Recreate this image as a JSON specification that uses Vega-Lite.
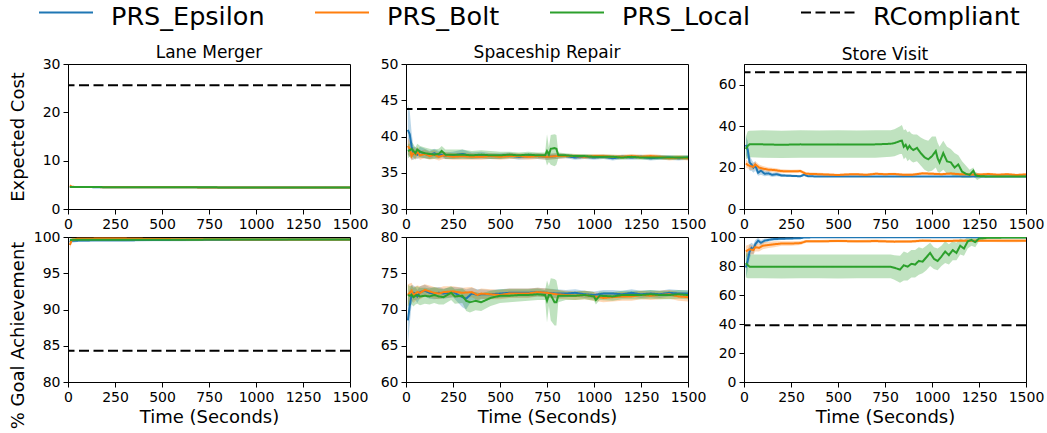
{
"$schema":"https://vega.github.io/schema/vega-lite/v6.json",
"background":"white",
"padding":{"left":8,"top":2,"right":0,"bottom":0},
"data":{"name":"d"},
"datasets":{"d":[
{"p":"LMc","s":"PRS_Epsilon","t":10,"v":4.6,"lo":4.35,"hi":4.85},{"p":"LMc","s":"PRS_Epsilon","t":20,"v":4.55,"lo":4.45,"hi":4.65},{"p":"LMc","s":"PRS_Epsilon","t":50,"v":4.55,"lo":4.47,"hi":4.63},{"p":"LMc","s":"PRS_Epsilon","t":150,"v":4.52,"lo":4.45,"hi":4.6},{"p":"LMc","s":"PRS_Epsilon","t":300,"v":4.5,"lo":4.43,"hi":4.57},{"p":"LMc","s":"PRS_Epsilon","t":450,"v":4.5,"lo":4.43,"hi":4.57},{"p":"LMc","s":"PRS_Epsilon","t":600,"v":4.48,"lo":4.41,"hi":4.55},{"p":"LMc","s":"PRS_Epsilon","t":750,"v":4.47,"lo":4.4,"hi":4.54},{"p":"LMc","s":"PRS_Epsilon","t":900,"v":4.46,"lo":4.39,"hi":4.53},{"p":"LMc","s":"PRS_Epsilon","t":1050,"v":4.45,"lo":4.38,"hi":4.52},{"p":"LMc","s":"PRS_Epsilon","t":1200,"v":4.44,"lo":4.37,"hi":4.51},{"p":"LMc","s":"PRS_Epsilon","t":1350,"v":4.44,"lo":4.37,"hi":4.51},{"p":"LMc","s":"PRS_Epsilon","t":1500,"v":4.43,"lo":4.36,"hi":4.5},
{"p":"LMc","s":"PRS_Bolt","t":10,"v":4.85,"lo":4.4,"hi":5.2},{"p":"LMc","s":"PRS_Bolt","t":20,"v":4.6,"lo":4.45,"hi":4.75},{"p":"LMc","s":"PRS_Bolt","t":50,"v":4.55,"lo":4.47,"hi":4.63},{"p":"LMc","s":"PRS_Bolt","t":150,"v":4.53,"lo":4.46,"hi":4.6},{"p":"LMc","s":"PRS_Bolt","t":300,"v":4.5,"lo":4.43,"hi":4.57},{"p":"LMc","s":"PRS_Bolt","t":450,"v":4.49,"lo":4.42,"hi":4.56},{"p":"LMc","s":"PRS_Bolt","t":600,"v":4.48,"lo":4.41,"hi":4.55},{"p":"LMc","s":"PRS_Bolt","t":750,"v":4.47,"lo":4.4,"hi":4.54},{"p":"LMc","s":"PRS_Bolt","t":900,"v":4.46,"lo":4.39,"hi":4.53},{"p":"LMc","s":"PRS_Bolt","t":1050,"v":4.45,"lo":4.38,"hi":4.52},{"p":"LMc","s":"PRS_Bolt","t":1200,"v":4.45,"lo":4.38,"hi":4.52},{"p":"LMc","s":"PRS_Bolt","t":1350,"v":4.44,"lo":4.37,"hi":4.51},{"p":"LMc","s":"PRS_Bolt","t":1500,"v":4.43,"lo":4.36,"hi":4.5},
{"p":"LMc","s":"PRS_Local","t":10,"v":4.55,"lo":4.4,"hi":4.7},{"p":"LMc","s":"PRS_Local","t":20,"v":4.55,"lo":4.46,"hi":4.64},{"p":"LMc","s":"PRS_Local","t":50,"v":4.54,"lo":4.47,"hi":4.61},{"p":"LMc","s":"PRS_Local","t":150,"v":4.53,"lo":4.46,"hi":4.6},{"p":"LMc","s":"PRS_Local","t":300,"v":4.51,"lo":4.44,"hi":4.58},{"p":"LMc","s":"PRS_Local","t":450,"v":4.5,"lo":4.43,"hi":4.57},{"p":"LMc","s":"PRS_Local","t":600,"v":4.49,"lo":4.42,"hi":4.56},{"p":"LMc","s":"PRS_Local","t":750,"v":4.48,"lo":4.41,"hi":4.55},{"p":"LMc","s":"PRS_Local","t":900,"v":4.46,"lo":4.39,"hi":4.53},{"p":"LMc","s":"PRS_Local","t":1050,"v":4.45,"lo":4.38,"hi":4.52},{"p":"LMc","s":"PRS_Local","t":1200,"v":4.45,"lo":4.38,"hi":4.52},{"p":"LMc","s":"PRS_Local","t":1350,"v":4.44,"lo":4.37,"hi":4.51},{"p":"LMc","s":"PRS_Local","t":1500,"v":4.44,"lo":4.37,"hi":4.51},
{"p":"LMc","s":"RCompliant","v":25.6},
{"p":"LMg","s":"PRS_Epsilon","t":10,"v":99.3,"lo":98.9,"hi":99.7},{"p":"LMg","s":"PRS_Epsilon","t":20,"v":99.5,"lo":99.2,"hi":99.8},{"p":"LMg","s":"PRS_Epsilon","t":50,"v":99.5,"lo":99.3,"hi":99.7},{"p":"LMg","s":"PRS_Epsilon","t":150,"v":99.55,"lo":99.35,"hi":99.75},{"p":"LMg","s":"PRS_Epsilon","t":300,"v":99.55,"lo":99.35,"hi":99.75},{"p":"LMg","s":"PRS_Epsilon","t":450,"v":99.6,"lo":99.4,"hi":99.8},{"p":"LMg","s":"PRS_Epsilon","t":600,"v":99.6,"lo":99.4,"hi":99.8},{"p":"LMg","s":"PRS_Epsilon","t":750,"v":99.62,"lo":99.45,"hi":99.8},{"p":"LMg","s":"PRS_Epsilon","t":900,"v":99.63,"lo":99.45,"hi":99.8},{"p":"LMg","s":"PRS_Epsilon","t":1050,"v":99.63,"lo":99.45,"hi":99.8},{"p":"LMg","s":"PRS_Epsilon","t":1200,"v":99.64,"lo":99.47,"hi":99.8},{"p":"LMg","s":"PRS_Epsilon","t":1350,"v":99.64,"lo":99.47,"hi":99.8},{"p":"LMg","s":"PRS_Epsilon","t":1500,"v":99.65,"lo":99.5,"hi":99.8},
{"p":"LMg","s":"PRS_Bolt","t":10,"v":98.9,"lo":98.3,"hi":99.5},{"p":"LMg","s":"PRS_Bolt","t":20,"v":99.6,"lo":99.3,"hi":99.9},{"p":"LMg","s":"PRS_Bolt","t":50,"v":99.75,"lo":99.6,"hi":99.9},{"p":"LMg","s":"PRS_Bolt","t":150,"v":99.78,"lo":99.62,"hi":99.92},{"p":"LMg","s":"PRS_Bolt","t":300,"v":99.78,"lo":99.62,"hi":99.92},{"p":"LMg","s":"PRS_Bolt","t":450,"v":99.72,"lo":99.55,"hi":99.88},{"p":"LMg","s":"PRS_Bolt","t":600,"v":99.7,"lo":99.53,"hi":99.87},{"p":"LMg","s":"PRS_Bolt","t":750,"v":99.68,"lo":99.5,"hi":99.85},{"p":"LMg","s":"PRS_Bolt","t":900,"v":99.67,"lo":99.5,"hi":99.84},{"p":"LMg","s":"PRS_Bolt","t":1050,"v":99.66,"lo":99.5,"hi":99.82},{"p":"LMg","s":"PRS_Bolt","t":1200,"v":99.65,"lo":99.5,"hi":99.8},{"p":"LMg","s":"PRS_Bolt","t":1350,"v":99.65,"lo":99.5,"hi":99.8},{"p":"LMg","s":"PRS_Bolt","t":1500,"v":99.64,"lo":99.48,"hi":99.8},
{"p":"LMg","s":"PRS_Local","t":10,"v":99.6,"lo":99.3,"hi":99.9},{"p":"LMg","s":"PRS_Local","t":20,"v":99.6,"lo":99.4,"hi":99.8},{"p":"LMg","s":"PRS_Local","t":50,"v":99.62,"lo":99.45,"hi":99.8},{"p":"LMg","s":"PRS_Local","t":150,"v":99.62,"lo":99.45,"hi":99.8},{"p":"LMg","s":"PRS_Local","t":300,"v":99.62,"lo":99.45,"hi":99.8},{"p":"LMg","s":"PRS_Local","t":450,"v":99.63,"lo":99.46,"hi":99.8},{"p":"LMg","s":"PRS_Local","t":600,"v":99.63,"lo":99.46,"hi":99.8},{"p":"LMg","s":"PRS_Local","t":750,"v":99.64,"lo":99.47,"hi":99.81},{"p":"LMg","s":"PRS_Local","t":900,"v":99.64,"lo":99.47,"hi":99.81},{"p":"LMg","s":"PRS_Local","t":1050,"v":99.64,"lo":99.47,"hi":99.81},{"p":"LMg","s":"PRS_Local","t":1200,"v":99.64,"lo":99.47,"hi":99.81},{"p":"LMg","s":"PRS_Local","t":1350,"v":99.64,"lo":99.47,"hi":99.81},{"p":"LMg","s":"PRS_Local","t":1500,"v":99.64,"lo":99.47,"hi":99.81},
{"p":"LMg","s":"RCompliant","v":84.3},
{"p":"SRc","s":"PRS_Epsilon","t":10,"v":40.9,"lo":37.5,"hi":44.5},{"p":"SRc","s":"PRS_Epsilon","t":20,"v":40.3,"lo":37.2,"hi":43.5},{"p":"SRc","s":"PRS_Epsilon","t":30,"v":38.6,"lo":36.8,"hi":40.5},{"p":"SRc","s":"PRS_Epsilon","t":40,"v":37.6,"lo":36.8,"hi":38.6},{"p":"SRc","s":"PRS_Epsilon","t":50,"v":37.8,"lo":37.0,"hi":38.6},{"p":"SRc","s":"PRS_Epsilon","t":60,"v":37.5,"lo":36.9,"hi":38.2},{"p":"SRc","s":"PRS_Epsilon","t":75,"v":37.9,"lo":37.1,"hi":38.6},{"p":"SRc","s":"PRS_Epsilon","t":100,"v":37.6,"lo":37.0,"hi":38.3},{"p":"SRc","s":"PRS_Epsilon","t":125,"v":37.4,"lo":36.9,"hi":38.0},{"p":"SRc","s":"PRS_Epsilon","t":150,"v":37.7,"lo":37.1,"hi":38.3},{"p":"SRc","s":"PRS_Epsilon","t":175,"v":37.4,"lo":36.9,"hi":38.0},{"p":"SRc","s":"PRS_Epsilon","t":190,"v":37.5,"lo":37.0,"hi":38.1},{"p":"SRc","s":"PRS_Epsilon","t":210,"v":37.3,"lo":36.9,"hi":37.8},{"p":"SRc","s":"PRS_Epsilon","t":250,"v":37.4,"lo":36.9,"hi":37.9},{"p":"SRc","s":"PRS_Epsilon","t":300,"v":37.6,"lo":37.0,"hi":38.2},{"p":"SRc","s":"PRS_Epsilon","t":350,"v":37.3,"lo":36.9,"hi":37.8},{"p":"SRc","s":"PRS_Epsilon","t":400,"v":37.4,"lo":36.9,"hi":37.9},{"p":"SRc","s":"PRS_Epsilon","t":450,"v":37.3,"lo":36.9,"hi":37.7},{"p":"SRc","s":"PRS_Epsilon","t":500,"v":37.3,"lo":36.9,"hi":37.7},{"p":"SRc","s":"PRS_Epsilon","t":550,"v":37.4,"lo":37.0,"hi":37.8},{"p":"SRc","s":"PRS_Epsilon","t":600,"v":37.2,"lo":36.8,"hi":37.6},{"p":"SRc","s":"PRS_Epsilon","t":650,"v":37.3,"lo":36.9,"hi":37.7},{"p":"SRc","s":"PRS_Epsilon","t":700,"v":37.3,"lo":36.9,"hi":37.7},{"p":"SRc","s":"PRS_Epsilon","t":750,"v":37.2,"lo":36.8,"hi":37.6},{"p":"SRc","s":"PRS_Epsilon","t":800,"v":37.3,"lo":36.9,"hi":37.7},{"p":"SRc","s":"PRS_Epsilon","t":850,"v":37.3,"lo":37.0,"hi":37.6},{"p":"SRc","s":"PRS_Epsilon","t":900,"v":37.1,"lo":36.8,"hi":37.4},{"p":"SRc","s":"PRS_Epsilon","t":950,"v":37.2,"lo":36.9,"hi":37.5},{"p":"SRc","s":"PRS_Epsilon","t":1000,"v":37.1,"lo":36.8,"hi":37.4},{"p":"SRc","s":"PRS_Epsilon","t":1050,"v":37.2,"lo":36.9,"hi":37.5},{"p":"SRc","s":"PRS_Epsilon","t":1100,"v":37.0,"lo":36.7,"hi":37.3},{"p":"SRc","s":"PRS_Epsilon","t":1150,"v":37.2,"lo":36.9,"hi":37.5},{"p":"SRc","s":"PRS_Epsilon","t":1200,"v":37.1,"lo":36.8,"hi":37.4},{"p":"SRc","s":"PRS_Epsilon","t":1250,"v":37.2,"lo":36.9,"hi":37.5},{"p":"SRc","s":"PRS_Epsilon","t":1300,"v":37.0,"lo":36.7,"hi":37.3},{"p":"SRc","s":"PRS_Epsilon","t":1350,"v":37.1,"lo":36.8,"hi":37.4},{"p":"SRc","s":"PRS_Epsilon","t":1400,"v":37.1,"lo":36.8,"hi":37.4},{"p":"SRc","s":"PRS_Epsilon","t":1450,"v":37.0,"lo":36.7,"hi":37.3},{"p":"SRc","s":"PRS_Epsilon","t":1500,"v":37.1,"lo":36.8,"hi":37.4},
{"p":"SRc","s":"PRS_Bolt","t":10,"v":38.7,"lo":37.5,"hi":39.8},{"p":"SRc","s":"PRS_Bolt","t":20,"v":38.3,"lo":37.2,"hi":39.3},{"p":"SRc","s":"PRS_Bolt","t":30,"v":37.3,"lo":36.7,"hi":38.0},{"p":"SRc","s":"PRS_Bolt","t":40,"v":37.8,"lo":37.0,"hi":38.6},{"p":"SRc","s":"PRS_Bolt","t":50,"v":37.5,"lo":36.8,"hi":38.2},{"p":"SRc","s":"PRS_Bolt","t":60,"v":37.9,"lo":37.1,"hi":38.6},{"p":"SRc","s":"PRS_Bolt","t":75,"v":37.4,"lo":36.8,"hi":38.0},{"p":"SRc","s":"PRS_Bolt","t":100,"v":37.6,"lo":37.0,"hi":38.2},{"p":"SRc","s":"PRS_Bolt","t":125,"v":37.3,"lo":36.8,"hi":37.9},{"p":"SRc","s":"PRS_Bolt","t":150,"v":37.5,"lo":36.9,"hi":38.1},{"p":"SRc","s":"PRS_Bolt","t":175,"v":37.2,"lo":36.7,"hi":37.8},{"p":"SRc","s":"PRS_Bolt","t":200,"v":37.4,"lo":36.9,"hi":37.9},{"p":"SRc","s":"PRS_Bolt","t":250,"v":37.2,"lo":36.8,"hi":37.7},{"p":"SRc","s":"PRS_Bolt","t":300,"v":37.3,"lo":36.8,"hi":37.8},{"p":"SRc","s":"PRS_Bolt","t":350,"v":37.2,"lo":36.8,"hi":37.7},{"p":"SRc","s":"PRS_Bolt","t":400,"v":37.2,"lo":36.8,"hi":37.6},{"p":"SRc","s":"PRS_Bolt","t":450,"v":37.3,"lo":36.9,"hi":37.7},{"p":"SRc","s":"PRS_Bolt","t":500,"v":37.2,"lo":36.8,"hi":37.6},{"p":"SRc","s":"PRS_Bolt","t":550,"v":37.3,"lo":36.9,"hi":37.7},{"p":"SRc","s":"PRS_Bolt","t":600,"v":37.3,"lo":36.9,"hi":37.7},{"p":"SRc","s":"PRS_Bolt","t":650,"v":37.2,"lo":36.8,"hi":37.6},{"p":"SRc","s":"PRS_Bolt","t":700,"v":37.3,"lo":36.9,"hi":37.7},{"p":"SRc","s":"PRS_Bolt","t":750,"v":37.2,"lo":36.8,"hi":37.6},{"p":"SRc","s":"PRS_Bolt","t":800,"v":37.3,"lo":36.9,"hi":37.7},{"p":"SRc","s":"PRS_Bolt","t":850,"v":37.3,"lo":37.0,"hi":37.6},{"p":"SRc","s":"PRS_Bolt","t":900,"v":37.3,"lo":37.0,"hi":37.6},{"p":"SRc","s":"PRS_Bolt","t":950,"v":37.2,"lo":36.9,"hi":37.5},{"p":"SRc","s":"PRS_Bolt","t":1000,"v":37.3,"lo":37.0,"hi":37.6},{"p":"SRc","s":"PRS_Bolt","t":1050,"v":37.3,"lo":37.0,"hi":37.6},{"p":"SRc","s":"PRS_Bolt","t":1100,"v":37.2,"lo":36.9,"hi":37.5},{"p":"SRc","s":"PRS_Bolt","t":1150,"v":37.2,"lo":36.9,"hi":37.5},{"p":"SRc","s":"PRS_Bolt","t":1200,"v":37.3,"lo":37.0,"hi":37.6},{"p":"SRc","s":"PRS_Bolt","t":1250,"v":37.2,"lo":36.9,"hi":37.5},{"p":"SRc","s":"PRS_Bolt","t":1300,"v":37.3,"lo":37.0,"hi":37.6},{"p":"SRc","s":"PRS_Bolt","t":1350,"v":37.2,"lo":36.9,"hi":37.5},{"p":"SRc","s":"PRS_Bolt","t":1400,"v":37.0,"lo":36.7,"hi":37.3},{"p":"SRc","s":"PRS_Bolt","t":1450,"v":37.1,"lo":36.8,"hi":37.4},{"p":"SRc","s":"PRS_Bolt","t":1500,"v":37.0,"lo":36.7,"hi":37.3},
{"p":"SRc","s":"PRS_Local","t":10,"v":38.0,"lo":37.0,"hi":39.0},{"p":"SRc","s":"PRS_Local","t":20,"v":38.1,"lo":37.2,"hi":39.0},{"p":"SRc","s":"PRS_Local","t":30,"v":38.3,"lo":37.3,"hi":39.3},{"p":"SRc","s":"PRS_Local","t":40,"v":38.0,"lo":37.1,"hi":38.9},{"p":"SRc","s":"PRS_Local","t":50,"v":37.7,"lo":36.9,"hi":38.5},{"p":"SRc","s":"PRS_Local","t":60,"v":38.2,"lo":37.4,"hi":39.0},{"p":"SRc","s":"PRS_Local","t":75,"v":37.9,"lo":37.1,"hi":38.7},{"p":"SRc","s":"PRS_Local","t":100,"v":37.7,"lo":37.0,"hi":38.5},{"p":"SRc","s":"PRS_Local","t":125,"v":37.6,"lo":36.9,"hi":38.3},{"p":"SRc","s":"PRS_Local","t":150,"v":37.5,"lo":36.9,"hi":38.2},{"p":"SRc","s":"PRS_Local","t":175,"v":37.6,"lo":37.0,"hi":38.3},{"p":"SRc","s":"PRS_Local","t":190,"v":38.0,"lo":37.3,"hi":38.7},{"p":"SRc","s":"PRS_Local","t":210,"v":37.5,"lo":36.9,"hi":38.2},{"p":"SRc","s":"PRS_Local","t":250,"v":37.5,"lo":36.9,"hi":38.2},{"p":"SRc","s":"PRS_Local","t":300,"v":37.5,"lo":36.9,"hi":38.2},{"p":"SRc","s":"PRS_Local","t":350,"v":37.4,"lo":36.9,"hi":38.0},{"p":"SRc","s":"PRS_Local","t":400,"v":37.5,"lo":37.0,"hi":38.1},{"p":"SRc","s":"PRS_Local","t":450,"v":37.4,"lo":36.9,"hi":38.0},{"p":"SRc","s":"PRS_Local","t":500,"v":37.4,"lo":36.9,"hi":37.9},{"p":"SRc","s":"PRS_Local","t":550,"v":37.5,"lo":37.0,"hi":37.9},{"p":"SRc","s":"PRS_Local","t":600,"v":37.4,"lo":37.0,"hi":37.8},{"p":"SRc","s":"PRS_Local","t":650,"v":37.5,"lo":37.1,"hi":37.9},{"p":"SRc","s":"PRS_Local","t":700,"v":37.4,"lo":37.0,"hi":37.8},{"p":"SRc","s":"PRS_Local","t":740,"v":37.4,"lo":37.0,"hi":37.8},{"p":"SRc","s":"PRS_Local","t":750,"v":38.0,"lo":36.0,"hi":40.3},{"p":"SRc","s":"PRS_Local","t":760,"v":37.5,"lo":36.5,"hi":38.5},{"p":"SRc","s":"PRS_Local","t":770,"v":38.3,"lo":36.1,"hi":40.2},{"p":"SRc","s":"PRS_Local","t":790,"v":38.4,"lo":35.9,"hi":40.3},{"p":"SRc","s":"PRS_Local","t":800,"v":38.3,"lo":36.1,"hi":40.2},{"p":"SRc","s":"PRS_Local","t":810,"v":37.4,"lo":37.0,"hi":37.8},{"p":"SRc","s":"PRS_Local","t":850,"v":37.4,"lo":37.1,"hi":37.7},{"p":"SRc","s":"PRS_Local","t":900,"v":37.3,"lo":37.0,"hi":37.6},{"p":"SRc","s":"PRS_Local","t":950,"v":37.3,"lo":37.0,"hi":37.6},{"p":"SRc","s":"PRS_Local","t":1000,"v":37.2,"lo":36.9,"hi":37.5},{"p":"SRc","s":"PRS_Local","t":1050,"v":37.2,"lo":36.9,"hi":37.5},{"p":"SRc","s":"PRS_Local","t":1100,"v":37.2,"lo":36.9,"hi":37.5},{"p":"SRc","s":"PRS_Local","t":1150,"v":37.1,"lo":36.8,"hi":37.4},{"p":"SRc","s":"PRS_Local","t":1200,"v":37.2,"lo":36.9,"hi":37.5},{"p":"SRc","s":"PRS_Local","t":1250,"v":37.1,"lo":36.8,"hi":37.4},{"p":"SRc","s":"PRS_Local","t":1300,"v":37.1,"lo":36.8,"hi":37.4},{"p":"SRc","s":"PRS_Local","t":1350,"v":37.1,"lo":36.8,"hi":37.4},{"p":"SRc","s":"PRS_Local","t":1400,"v":37.1,"lo":36.8,"hi":37.4},{"p":"SRc","s":"PRS_Local","t":1450,"v":37.1,"lo":36.8,"hi":37.4},{"p":"SRc","s":"PRS_Local","t":1500,"v":37.1,"lo":36.8,"hi":37.4},
{"p":"SRc","s":"RCompliant","v":43.8},
{"p":"SRg","s":"PRS_Epsilon","t":10,"v":68.5,"lo":65.3,"hi":71.5},{"p":"SRg","s":"PRS_Epsilon","t":20,"v":70.5,"lo":68.0,"hi":72.8},{"p":"SRg","s":"PRS_Epsilon","t":30,"v":72.1,"lo":70.8,"hi":73.4},{"p":"SRg","s":"PRS_Epsilon","t":40,"v":72.3,"lo":71.3,"hi":73.3},{"p":"SRg","s":"PRS_Epsilon","t":50,"v":72.2,"lo":71.3,"hi":73.1},{"p":"SRg","s":"PRS_Epsilon","t":60,"v":71.8,"lo":70.9,"hi":72.7},{"p":"SRg","s":"PRS_Epsilon","t":75,"v":72.4,"lo":71.6,"hi":73.2},{"p":"SRg","s":"PRS_Epsilon","t":100,"v":72.6,"lo":71.8,"hi":73.4},{"p":"SRg","s":"PRS_Epsilon","t":125,"v":72.3,"lo":71.5,"hi":73.1},{"p":"SRg","s":"PRS_Epsilon","t":150,"v":72.2,"lo":71.4,"hi":73.0},{"p":"SRg","s":"PRS_Epsilon","t":175,"v":72.3,"lo":71.5,"hi":73.1},{"p":"SRg","s":"PRS_Epsilon","t":200,"v":72.2,"lo":71.5,"hi":72.9},{"p":"SRg","s":"PRS_Epsilon","t":250,"v":72.4,"lo":71.7,"hi":73.1},{"p":"SRg","s":"PRS_Epsilon","t":300,"v":71.7,"lo":70.3,"hi":73.0},{"p":"SRg","s":"PRS_Epsilon","t":320,"v":71.5,"lo":70.0,"hi":72.8},{"p":"SRg","s":"PRS_Epsilon","t":350,"v":72.2,"lo":71.3,"hi":73.0},{"p":"SRg","s":"PRS_Epsilon","t":380,"v":72.0,"lo":71.2,"hi":72.8},{"p":"SRg","s":"PRS_Epsilon","t":400,"v":72.1,"lo":71.4,"hi":72.8},{"p":"SRg","s":"PRS_Epsilon","t":450,"v":72.1,"lo":71.5,"hi":72.7},{"p":"SRg","s":"PRS_Epsilon","t":500,"v":72.2,"lo":71.6,"hi":72.8},{"p":"SRg","s":"PRS_Epsilon","t":550,"v":72.3,"lo":71.7,"hi":72.9},{"p":"SRg","s":"PRS_Epsilon","t":600,"v":72.3,"lo":71.7,"hi":72.9},{"p":"SRg","s":"PRS_Epsilon","t":650,"v":72.3,"lo":71.7,"hi":72.9},{"p":"SRg","s":"PRS_Epsilon","t":700,"v":72.4,"lo":71.8,"hi":73.0},{"p":"SRg","s":"PRS_Epsilon","t":750,"v":72.3,"lo":71.7,"hi":72.9},{"p":"SRg","s":"PRS_Epsilon","t":800,"v":72.2,"lo":71.6,"hi":72.8},{"p":"SRg","s":"PRS_Epsilon","t":850,"v":72.2,"lo":71.7,"hi":72.7},{"p":"SRg","s":"PRS_Epsilon","t":900,"v":72.3,"lo":71.8,"hi":72.8},{"p":"SRg","s":"PRS_Epsilon","t":950,"v":72.1,"lo":71.6,"hi":72.6},{"p":"SRg","s":"PRS_Epsilon","t":1000,"v":72.0,"lo":71.5,"hi":72.5},{"p":"SRg","s":"PRS_Epsilon","t":1050,"v":72.2,"lo":71.7,"hi":72.7},{"p":"SRg","s":"PRS_Epsilon","t":1100,"v":72.2,"lo":71.7,"hi":72.7},{"p":"SRg","s":"PRS_Epsilon","t":1150,"v":72.1,"lo":71.6,"hi":72.6},{"p":"SRg","s":"PRS_Epsilon","t":1200,"v":72.3,"lo":71.8,"hi":72.8},{"p":"SRg","s":"PRS_Epsilon","t":1250,"v":72.1,"lo":71.6,"hi":72.6},{"p":"SRg","s":"PRS_Epsilon","t":1300,"v":72.2,"lo":71.7,"hi":72.7},{"p":"SRg","s":"PRS_Epsilon","t":1350,"v":72.1,"lo":71.6,"hi":72.6},{"p":"SRg","s":"PRS_Epsilon","t":1400,"v":72.3,"lo":71.8,"hi":72.8},{"p":"SRg","s":"PRS_Epsilon","t":1450,"v":72.2,"lo":71.7,"hi":72.7},{"p":"SRg","s":"PRS_Epsilon","t":1500,"v":72.2,"lo":71.7,"hi":72.7},
{"p":"SRg","s":"PRS_Bolt","t":10,"v":72.0,"lo":70.5,"hi":73.5},{"p":"SRg","s":"PRS_Bolt","t":20,"v":72.3,"lo":71.0,"hi":73.6},{"p":"SRg","s":"PRS_Bolt","t":30,"v":72.6,"lo":71.3,"hi":73.7},{"p":"SRg","s":"PRS_Bolt","t":40,"v":72.0,"lo":70.9,"hi":73.1},{"p":"SRg","s":"PRS_Bolt","t":50,"v":72.2,"lo":71.2,"hi":73.2},{"p":"SRg","s":"PRS_Bolt","t":60,"v":72.4,"lo":71.4,"hi":73.3},{"p":"SRg","s":"PRS_Bolt","t":75,"v":72.3,"lo":71.4,"hi":73.2},{"p":"SRg","s":"PRS_Bolt","t":100,"v":72.7,"lo":71.8,"hi":73.5},{"p":"SRg","s":"PRS_Bolt","t":125,"v":72.5,"lo":71.7,"hi":73.3},{"p":"SRg","s":"PRS_Bolt","t":150,"v":72.3,"lo":71.5,"hi":73.1},{"p":"SRg","s":"PRS_Bolt","t":175,"v":72.2,"lo":71.4,"hi":73.0},{"p":"SRg","s":"PRS_Bolt","t":200,"v":72.4,"lo":71.6,"hi":73.2},{"p":"SRg","s":"PRS_Bolt","t":250,"v":72.5,"lo":71.7,"hi":73.2},{"p":"SRg","s":"PRS_Bolt","t":300,"v":72.3,"lo":71.6,"hi":73.0},{"p":"SRg","s":"PRS_Bolt","t":350,"v":72.4,"lo":71.7,"hi":73.1},{"p":"SRg","s":"PRS_Bolt","t":380,"v":72.0,"lo":71.3,"hi":72.7},{"p":"SRg","s":"PRS_Bolt","t":400,"v":72.2,"lo":71.5,"hi":72.9},{"p":"SRg","s":"PRS_Bolt","t":450,"v":72.1,"lo":71.4,"hi":72.8},{"p":"SRg","s":"PRS_Bolt","t":500,"v":72.0,"lo":71.4,"hi":72.7},{"p":"SRg","s":"PRS_Bolt","t":550,"v":72.2,"lo":71.6,"hi":72.9},{"p":"SRg","s":"PRS_Bolt","t":600,"v":72.2,"lo":71.6,"hi":72.9},{"p":"SRg","s":"PRS_Bolt","t":650,"v":72.2,"lo":71.6,"hi":72.9},{"p":"SRg","s":"PRS_Bolt","t":700,"v":72.4,"lo":71.8,"hi":73.0},{"p":"SRg","s":"PRS_Bolt","t":750,"v":72.3,"lo":71.7,"hi":72.9},{"p":"SRg","s":"PRS_Bolt","t":800,"v":72.1,"lo":71.5,"hi":72.7},{"p":"SRg","s":"PRS_Bolt","t":850,"v":72.0,"lo":71.4,"hi":72.6},{"p":"SRg","s":"PRS_Bolt","t":900,"v":71.9,"lo":71.3,"hi":72.5},{"p":"SRg","s":"PRS_Bolt","t":950,"v":72.0,"lo":71.4,"hi":72.6},{"p":"SRg","s":"PRS_Bolt","t":1000,"v":71.8,"lo":71.2,"hi":72.4},{"p":"SRg","s":"PRS_Bolt","t":1050,"v":71.6,"lo":71.0,"hi":72.2},{"p":"SRg","s":"PRS_Bolt","t":1100,"v":71.7,"lo":71.1,"hi":72.3},{"p":"SRg","s":"PRS_Bolt","t":1150,"v":71.8,"lo":71.2,"hi":72.4},{"p":"SRg","s":"PRS_Bolt","t":1200,"v":71.8,"lo":71.2,"hi":72.4},{"p":"SRg","s":"PRS_Bolt","t":1250,"v":72.0,"lo":71.4,"hi":72.6},{"p":"SRg","s":"PRS_Bolt","t":1300,"v":71.9,"lo":71.3,"hi":72.5},{"p":"SRg","s":"PRS_Bolt","t":1350,"v":72.0,"lo":71.4,"hi":72.6},{"p":"SRg","s":"PRS_Bolt","t":1400,"v":72.1,"lo":71.5,"hi":72.7},{"p":"SRg","s":"PRS_Bolt","t":1450,"v":71.8,"lo":71.2,"hi":72.4},{"p":"SRg","s":"PRS_Bolt","t":1500,"v":71.7,"lo":71.1,"hi":72.3},
{"p":"SRg","s":"PRS_Local","t":10,"v":72.0,"lo":70.5,"hi":73.4},{"p":"SRg","s":"PRS_Local","t":20,"v":71.9,"lo":70.6,"hi":73.2},{"p":"SRg","s":"PRS_Local","t":30,"v":72.0,"lo":70.7,"hi":73.3},{"p":"SRg","s":"PRS_Local","t":40,"v":71.7,"lo":70.4,"hi":73.0},{"p":"SRg","s":"PRS_Local","t":50,"v":71.9,"lo":70.7,"hi":73.1},{"p":"SRg","s":"PRS_Local","t":60,"v":72.0,"lo":70.8,"hi":73.2},{"p":"SRg","s":"PRS_Local","t":75,"v":71.8,"lo":70.6,"hi":73.0},{"p":"SRg","s":"PRS_Local","t":100,"v":71.9,"lo":70.8,"hi":73.0},{"p":"SRg","s":"PRS_Local","t":125,"v":71.8,"lo":70.7,"hi":72.9},{"p":"SRg","s":"PRS_Local","t":150,"v":72.0,"lo":70.9,"hi":73.1},{"p":"SRg","s":"PRS_Local","t":175,"v":71.8,"lo":70.7,"hi":72.9},{"p":"SRg","s":"PRS_Local","t":200,"v":71.7,"lo":70.7,"hi":72.8},{"p":"SRg","s":"PRS_Local","t":220,"v":72.0,"lo":71.0,"hi":73.0},{"p":"SRg","s":"PRS_Local","t":240,"v":72.3,"lo":71.3,"hi":73.2},{"p":"SRg","s":"PRS_Local","t":260,"v":71.8,"lo":70.8,"hi":72.8},{"p":"SRg","s":"PRS_Local","t":300,"v":71.9,"lo":70.9,"hi":72.9},{"p":"SRg","s":"PRS_Local","t":320,"v":71.2,"lo":69.8,"hi":72.5},{"p":"SRg","s":"PRS_Local","t":340,"v":71.0,"lo":69.6,"hi":72.4},{"p":"SRg","s":"PRS_Local","t":370,"v":71.2,"lo":69.9,"hi":72.4},{"p":"SRg","s":"PRS_Local","t":400,"v":71.0,"lo":69.8,"hi":72.2},{"p":"SRg","s":"PRS_Local","t":450,"v":71.6,"lo":70.5,"hi":72.6},{"p":"SRg","s":"PRS_Local","t":500,"v":71.9,"lo":70.9,"hi":72.8},{"p":"SRg","s":"PRS_Local","t":550,"v":71.9,"lo":71.0,"hi":72.8},{"p":"SRg","s":"PRS_Local","t":600,"v":72.0,"lo":71.1,"hi":72.8},{"p":"SRg","s":"PRS_Local","t":650,"v":72.0,"lo":71.2,"hi":72.8},{"p":"SRg","s":"PRS_Local","t":700,"v":72.1,"lo":71.3,"hi":72.9},{"p":"SRg","s":"PRS_Local","t":740,"v":72.0,"lo":71.3,"hi":72.7},{"p":"SRg","s":"PRS_Local","t":750,"v":71.2,"lo":68.2,"hi":74.0},{"p":"SRg","s":"PRS_Local","t":760,"v":72.0,"lo":70.5,"hi":73.2},{"p":"SRg","s":"PRS_Local","t":770,"v":72.0,"lo":68.5,"hi":74.3},{"p":"SRg","s":"PRS_Local","t":790,"v":71.0,"lo":67.8,"hi":74.2},{"p":"SRg","s":"PRS_Local","t":800,"v":71.0,"lo":67.8,"hi":74.0},{"p":"SRg","s":"PRS_Local","t":810,"v":71.9,"lo":71.0,"hi":72.7},{"p":"SRg","s":"PRS_Local","t":850,"v":71.9,"lo":71.3,"hi":72.5},{"p":"SRg","s":"PRS_Local","t":900,"v":71.9,"lo":71.3,"hi":72.5},{"p":"SRg","s":"PRS_Local","t":950,"v":72.0,"lo":71.4,"hi":72.6},{"p":"SRg","s":"PRS_Local","t":1000,"v":71.8,"lo":71.2,"hi":72.4},{"p":"SRg","s":"PRS_Local","t":1010,"v":71.3,"lo":70.7,"hi":71.9},{"p":"SRg","s":"PRS_Local","t":1030,"v":71.9,"lo":71.3,"hi":72.5},{"p":"SRg","s":"PRS_Local","t":1100,"v":71.8,"lo":71.2,"hi":72.4},{"p":"SRg","s":"PRS_Local","t":1150,"v":72.0,"lo":71.4,"hi":72.6},{"p":"SRg","s":"PRS_Local","t":1200,"v":72.0,"lo":71.4,"hi":72.6},{"p":"SRg","s":"PRS_Local","t":1250,"v":72.0,"lo":71.4,"hi":72.6},{"p":"SRg","s":"PRS_Local","t":1300,"v":72.1,"lo":71.5,"hi":72.7},{"p":"SRg","s":"PRS_Local","t":1350,"v":72.0,"lo":71.4,"hi":72.6},{"p":"SRg","s":"PRS_Local","t":1400,"v":72.0,"lo":71.4,"hi":72.6},{"p":"SRg","s":"PRS_Local","t":1450,"v":72.1,"lo":71.5,"hi":72.7},{"p":"SRg","s":"PRS_Local","t":1500,"v":72.0,"lo":71.4,"hi":72.6},
{"p":"SRg","s":"RCompliant","v":63.5},
{"p":"SVc","s":"PRS_Epsilon","t":10,"v":31.0,"lo":26,"hi":35},{"p":"SVc","s":"PRS_Epsilon","t":20,"v":28.5,"lo":24,"hi":33},{"p":"SVc","s":"PRS_Epsilon","t":30,"v":22.5,"lo":18.5,"hi":26},{"p":"SVc","s":"PRS_Epsilon","t":40,"v":21.5,"lo":18.5,"hi":24},{"p":"SVc","s":"PRS_Epsilon","t":50,"v":20.0,"lo":17.5,"hi":22.5},{"p":"SVc","s":"PRS_Epsilon","t":60,"v":21.0,"lo":18.5,"hi":23},{"p":"SVc","s":"PRS_Epsilon","t":75,"v":17.5,"lo":16,"hi":19.5},{"p":"SVc","s":"PRS_Epsilon","t":90,"v":18.5,"lo":16.5,"hi":20.5},{"p":"SVc","s":"PRS_Epsilon","t":110,"v":17.0,"lo":15.8,"hi":18.5},{"p":"SVc","s":"PRS_Epsilon","t":130,"v":17.2,"lo":16,"hi":18.5},{"p":"SVc","s":"PRS_Epsilon","t":150,"v":16.5,"lo":15.5,"hi":17.5},{"p":"SVc","s":"PRS_Epsilon","t":175,"v":16.8,"lo":15.8,"hi":17.8},{"p":"SVc","s":"PRS_Epsilon","t":200,"v":16.2,"lo":15.5,"hi":17},{"p":"SVc","s":"PRS_Epsilon","t":250,"v":16.0,"lo":15.4,"hi":16.6},{"p":"SVc","s":"PRS_Epsilon","t":300,"v":15.8,"lo":15.3,"hi":16.3},{"p":"SVc","s":"PRS_Epsilon","t":320,"v":16.6,"lo":15.8,"hi":17.3},{"p":"SVc","s":"PRS_Epsilon","t":340,"v":15.8,"lo":15.5,"hi":16.1},{"p":"SVc","s":"PRS_Epsilon","t":400,"v":15.7,"lo":15.4,"hi":16.0},{"p":"SVc","s":"PRS_Epsilon","t":500,"v":15.7,"lo":15.5,"hi":15.9},{"p":"SVc","s":"PRS_Epsilon","t":600,"v":15.7,"lo":15.5,"hi":15.9},{"p":"SVc","s":"PRS_Epsilon","t":700,"v":15.7,"lo":15.5,"hi":15.9},{"p":"SVc","s":"PRS_Epsilon","t":800,"v":15.7,"lo":15.5,"hi":15.9},{"p":"SVc","s":"PRS_Epsilon","t":900,"v":15.7,"lo":15.5,"hi":15.9},{"p":"SVc","s":"PRS_Epsilon","t":1000,"v":15.7,"lo":15.5,"hi":15.9},{"p":"SVc","s":"PRS_Epsilon","t":1100,"v":15.7,"lo":15.5,"hi":15.9},{"p":"SVc","s":"PRS_Epsilon","t":1200,"v":15.7,"lo":15.5,"hi":15.9},{"p":"SVc","s":"PRS_Epsilon","t":1300,"v":15.7,"lo":15.5,"hi":15.9},{"p":"SVc","s":"PRS_Epsilon","t":1400,"v":15.7,"lo":15.5,"hi":15.9},{"p":"SVc","s":"PRS_Epsilon","t":1500,"v":15.7,"lo":15.5,"hi":15.9},
{"p":"SVc","s":"PRS_Bolt","t":10,"v":22.0,"lo":20,"hi":24},{"p":"SVc","s":"PRS_Bolt","t":20,"v":21.2,"lo":19.5,"hi":23},{"p":"SVc","s":"PRS_Bolt","t":30,"v":20.8,"lo":19,"hi":22.5},{"p":"SVc","s":"PRS_Bolt","t":50,"v":20.3,"lo":18.8,"hi":22},{"p":"SVc","s":"PRS_Bolt","t":60,"v":21.5,"lo":20,"hi":23},{"p":"SVc","s":"PRS_Bolt","t":80,"v":20.0,"lo":18.5,"hi":21.5},{"p":"SVc","s":"PRS_Bolt","t":100,"v":19.5,"lo":18.3,"hi":20.8},{"p":"SVc","s":"PRS_Bolt","t":130,"v":19.0,"lo":18,"hi":20},{"p":"SVc","s":"PRS_Bolt","t":160,"v":18.8,"lo":17.8,"hi":19.8},{"p":"SVc","s":"PRS_Bolt","t":200,"v":18.3,"lo":17.4,"hi":19.2},{"p":"SVc","s":"PRS_Bolt","t":250,"v":18.2,"lo":17.4,"hi":19},{"p":"SVc","s":"PRS_Bolt","t":300,"v":18.3,"lo":17.5,"hi":19.1},{"p":"SVc","s":"PRS_Bolt","t":330,"v":17.0,"lo":16.3,"hi":17.7},{"p":"SVc","s":"PRS_Bolt","t":400,"v":16.8,"lo":16.1,"hi":17.5},{"p":"SVc","s":"PRS_Bolt","t":500,"v":16.4,"lo":15.8,"hi":17.0},{"p":"SVc","s":"PRS_Bolt","t":550,"v":16.7,"lo":16.1,"hi":17.3},{"p":"SVc","s":"PRS_Bolt","t":600,"v":16.8,"lo":16.2,"hi":17.4},{"p":"SVc","s":"PRS_Bolt","t":650,"v":16.5,"lo":15.9,"hi":17.1},{"p":"SVc","s":"PRS_Bolt","t":700,"v":17.0,"lo":16.4,"hi":17.6},{"p":"SVc","s":"PRS_Bolt","t":750,"v":16.8,"lo":16.2,"hi":17.4},{"p":"SVc","s":"PRS_Bolt","t":800,"v":16.9,"lo":16.3,"hi":17.5},{"p":"SVc","s":"PRS_Bolt","t":850,"v":16.5,"lo":15.9,"hi":17.1},{"p":"SVc","s":"PRS_Bolt","t":900,"v":16.6,"lo":16.0,"hi":17.2},{"p":"SVc","s":"PRS_Bolt","t":950,"v":17.2,"lo":16.5,"hi":17.9},{"p":"SVc","s":"PRS_Bolt","t":1000,"v":17.0,"lo":16.3,"hi":17.7},{"p":"SVc","s":"PRS_Bolt","t":1050,"v":16.8,"lo":16.2,"hi":17.4},{"p":"SVc","s":"PRS_Bolt","t":1100,"v":17.1,"lo":16.5,"hi":17.7},{"p":"SVc","s":"PRS_Bolt","t":1150,"v":16.8,"lo":16.2,"hi":17.4},{"p":"SVc","s":"PRS_Bolt","t":1200,"v":16.7,"lo":16.1,"hi":17.3},{"p":"SVc","s":"PRS_Bolt","t":1250,"v":16.6,"lo":16.0,"hi":17.2},{"p":"SVc","s":"PRS_Bolt","t":1300,"v":16.9,"lo":16.3,"hi":17.5},{"p":"SVc","s":"PRS_Bolt","t":1350,"v":16.5,"lo":15.9,"hi":17.1},{"p":"SVc","s":"PRS_Bolt","t":1400,"v":16.8,"lo":16.2,"hi":17.4},{"p":"SVc","s":"PRS_Bolt","t":1450,"v":16.4,"lo":15.8,"hi":17.0},{"p":"SVc","s":"PRS_Bolt","t":1500,"v":16.7,"lo":16.1,"hi":17.3},
{"p":"SVc","s":"PRS_Local","t":10,"v":29.0,"lo":24,"hi":35},{"p":"SVc","s":"PRS_Local","t":20,"v":30.5,"lo":24.5,"hi":37.5},{"p":"SVc","s":"PRS_Local","t":30,"v":31.3,"lo":25,"hi":37.8},{"p":"SVc","s":"PRS_Local","t":100,"v":31.2,"lo":24.8,"hi":38},{"p":"SVc","s":"PRS_Local","t":200,"v":31.0,"lo":24.6,"hi":37.8},{"p":"SVc","s":"PRS_Local","t":300,"v":31.2,"lo":24.8,"hi":38},{"p":"SVc","s":"PRS_Local","t":400,"v":31.1,"lo":24.7,"hi":37.9},{"p":"SVc","s":"PRS_Local","t":500,"v":31.2,"lo":24.8,"hi":38},{"p":"SVc","s":"PRS_Local","t":600,"v":31.1,"lo":24.7,"hi":37.9},{"p":"SVc","s":"PRS_Local","t":700,"v":31.2,"lo":24.8,"hi":38},{"p":"SVc","s":"PRS_Local","t":780,"v":31.5,"lo":25.2,"hi":38},{"p":"SVc","s":"PRS_Local","t":800,"v":31.8,"lo":25.5,"hi":38.5},{"p":"SVc","s":"PRS_Local","t":830,"v":32.8,"lo":26.5,"hi":40.0},{"p":"SVc","s":"PRS_Local","t":840,"v":33.0,"lo":26.5,"hi":40.5},{"p":"SVc","s":"PRS_Local","t":850,"v":30.0,"lo":24,"hi":38},{"p":"SVc","s":"PRS_Local","t":860,"v":31.0,"lo":25,"hi":38.5},{"p":"SVc","s":"PRS_Local","t":870,"v":29.0,"lo":23,"hi":37},{"p":"SVc","s":"PRS_Local","t":880,"v":30.5,"lo":24,"hi":37.5},{"p":"SVc","s":"PRS_Local","t":890,"v":29.2,"lo":23,"hi":36.5},{"p":"SVc","s":"PRS_Local","t":900,"v":28.5,"lo":22.5,"hi":36},{"p":"SVc","s":"PRS_Local","t":920,"v":29.5,"lo":23,"hi":36},{"p":"SVc","s":"PRS_Local","t":940,"v":27.0,"lo":21,"hi":34.5},{"p":"SVc","s":"PRS_Local","t":960,"v":25.0,"lo":19,"hi":33.5},{"p":"SVc","s":"PRS_Local","t":980,"v":24.0,"lo":18,"hi":33},{"p":"SVc","s":"PRS_Local","t":1000,"v":25.5,"lo":18.5,"hi":35},{"p":"SVc","s":"PRS_Local","t":1020,"v":28.0,"lo":20,"hi":35},{"p":"SVc","s":"PRS_Local","t":1030,"v":24.5,"lo":18,"hi":32},{"p":"SVc","s":"PRS_Local","t":1040,"v":22.5,"lo":17.5,"hi":30},{"p":"SVc","s":"PRS_Local","t":1060,"v":27.0,"lo":19,"hi":33},{"p":"SVc","s":"PRS_Local","t":1080,"v":23.0,"lo":17,"hi":30},{"p":"SVc","s":"PRS_Local","t":1100,"v":22.5,"lo":16.5,"hi":29},{"p":"SVc","s":"PRS_Local","t":1120,"v":20.0,"lo":15.5,"hi":27},{"p":"SVc","s":"PRS_Local","t":1140,"v":21.5,"lo":16,"hi":26},{"p":"SVc","s":"PRS_Local","t":1160,"v":18.0,"lo":15,"hi":23},{"p":"SVc","s":"PRS_Local","t":1180,"v":17.0,"lo":15,"hi":21},{"p":"SVc","s":"PRS_Local","t":1200,"v":16.5,"lo":15,"hi":19},{"p":"SVc","s":"PRS_Local","t":1220,"v":18.5,"lo":15.5,"hi":20},{"p":"SVc","s":"PRS_Local","t":1230,"v":16.5,"lo":15,"hi":18},{"p":"SVc","s":"PRS_Local","t":1240,"v":16.0,"lo":14,"hi":17.5},{"p":"SVc","s":"PRS_Local","t":1260,"v":15.8,"lo":15,"hi":16.8},{"p":"SVc","s":"PRS_Local","t":1300,"v":15.7,"lo":15.3,"hi":16.1},{"p":"SVc","s":"PRS_Local","t":1400,"v":15.7,"lo":15.4,"hi":16.0},{"p":"SVc","s":"PRS_Local","t":1500,"v":15.7,"lo":15.4,"hi":16.0},
{"p":"SVc","s":"RCompliant","v":66},
{"p":"SVg","s":"PRS_Epsilon","t":10,"v":79.0,"lo":72,"hi":87},{"p":"SVg","s":"PRS_Epsilon","t":20,"v":84.0,"lo":77,"hi":91},{"p":"SVg","s":"PRS_Epsilon","t":30,"v":90.0,"lo":85,"hi":95},{"p":"SVg","s":"PRS_Epsilon","t":40,"v":92.5,"lo":88.5,"hi":96},{"p":"SVg","s":"PRS_Epsilon","t":50,"v":91.5,"lo":88,"hi":95},{"p":"SVg","s":"PRS_Epsilon","t":60,"v":95.0,"lo":92,"hi":98},{"p":"SVg","s":"PRS_Epsilon","t":75,"v":97.5,"lo":95.5,"hi":99.5},{"p":"SVg","s":"PRS_Epsilon","t":90,"v":96.0,"lo":94,"hi":98},{"p":"SVg","s":"PRS_Epsilon","t":110,"v":97.5,"lo":96,"hi":99},{"p":"SVg","s":"PRS_Epsilon","t":130,"v":98.0,"lo":96.8,"hi":99.2},{"p":"SVg","s":"PRS_Epsilon","t":150,"v":98.5,"lo":97.5,"hi":99.5},{"p":"SVg","s":"PRS_Epsilon","t":200,"v":98.8,"lo":98,"hi":99.6},{"p":"SVg","s":"PRS_Epsilon","t":250,"v":99.0,"lo":98.3,"hi":99.7},{"p":"SVg","s":"PRS_Epsilon","t":300,"v":99.2,"lo":98.6,"hi":99.8},{"p":"SVg","s":"PRS_Epsilon","t":320,"v":99.7,"lo":99.4,"hi":100},{"p":"SVg","s":"PRS_Epsilon","t":400,"v":99.8,"lo":99.5,"hi":100},{"p":"SVg","s":"PRS_Epsilon","t":600,"v":99.8,"lo":99.5,"hi":100},{"p":"SVg","s":"PRS_Epsilon","t":800,"v":99.8,"lo":99.5,"hi":100},{"p":"SVg","s":"PRS_Epsilon","t":1000,"v":99.8,"lo":99.5,"hi":100},{"p":"SVg","s":"PRS_Epsilon","t":1200,"v":99.8,"lo":99.5,"hi":100},{"p":"SVg","s":"PRS_Epsilon","t":1400,"v":99.8,"lo":99.5,"hi":100},{"p":"SVg","s":"PRS_Epsilon","t":1500,"v":99.8,"lo":99.5,"hi":100},
{"p":"SVg","s":"PRS_Bolt","t":10,"v":90.0,"lo":86,"hi":94},{"p":"SVg","s":"PRS_Bolt","t":20,"v":91.0,"lo":87.5,"hi":94.5},{"p":"SVg","s":"PRS_Bolt","t":30,"v":91.5,"lo":88,"hi":95},{"p":"SVg","s":"PRS_Bolt","t":50,"v":91.0,"lo":88,"hi":94},{"p":"SVg","s":"PRS_Bolt","t":60,"v":93.0,"lo":90,"hi":96},{"p":"SVg","s":"PRS_Bolt","t":80,"v":92.5,"lo":90,"hi":95},{"p":"SVg","s":"PRS_Bolt","t":100,"v":94.0,"lo":91.5,"hi":96.5},{"p":"SVg","s":"PRS_Bolt","t":130,"v":94.5,"lo":92.5,"hi":96.5},{"p":"SVg","s":"PRS_Bolt","t":160,"v":95.0,"lo":93,"hi":97},{"p":"SVg","s":"PRS_Bolt","t":200,"v":95.5,"lo":94,"hi":97},{"p":"SVg","s":"PRS_Bolt","t":250,"v":95.5,"lo":94,"hi":97},{"p":"SVg","s":"PRS_Bolt","t":300,"v":95.8,"lo":94.5,"hi":97.2},{"p":"SVg","s":"PRS_Bolt","t":330,"v":97.0,"lo":96,"hi":98},{"p":"SVg","s":"PRS_Bolt","t":400,"v":97.0,"lo":96,"hi":98},{"p":"SVg","s":"PRS_Bolt","t":500,"v":97.3,"lo":96.3,"hi":98.3},{"p":"SVg","s":"PRS_Bolt","t":600,"v":97.0,"lo":96,"hi":98},{"p":"SVg","s":"PRS_Bolt","t":700,"v":97.2,"lo":96.2,"hi":98.2},{"p":"SVg","s":"PRS_Bolt","t":800,"v":96.8,"lo":95.8,"hi":97.8},{"p":"SVg","s":"PRS_Bolt","t":900,"v":97.0,"lo":96,"hi":98},{"p":"SVg","s":"PRS_Bolt","t":950,"v":97.5,"lo":96.5,"hi":98.5},{"p":"SVg","s":"PRS_Bolt","t":1000,"v":97.3,"lo":96.3,"hi":98.3},{"p":"SVg","s":"PRS_Bolt","t":1100,"v":97.3,"lo":96.3,"hi":98.3},{"p":"SVg","s":"PRS_Bolt","t":1200,"v":97.5,"lo":96.5,"hi":98.5},{"p":"SVg","s":"PRS_Bolt","t":1300,"v":97.5,"lo":96.5,"hi":98.5},{"p":"SVg","s":"PRS_Bolt","t":1400,"v":97.4,"lo":96.4,"hi":98.4},{"p":"SVg","s":"PRS_Bolt","t":1500,"v":97.5,"lo":96.5,"hi":98.5},
{"p":"SVg","s":"PRS_Local","t":10,"v":82.0,"lo":72,"hi":90},{"p":"SVg","s":"PRS_Local","t":20,"v":80.5,"lo":71.5,"hi":88.5},{"p":"SVg","s":"PRS_Local","t":30,"v":79.5,"lo":71.5,"hi":88},{"p":"SVg","s":"PRS_Local","t":100,"v":79.5,"lo":71.5,"hi":88},{"p":"SVg","s":"PRS_Local","t":200,"v":79.4,"lo":71.4,"hi":87.9},{"p":"SVg","s":"PRS_Local","t":300,"v":79.5,"lo":71.5,"hi":88},{"p":"SVg","s":"PRS_Local","t":400,"v":79.5,"lo":71.5,"hi":88},{"p":"SVg","s":"PRS_Local","t":500,"v":79.4,"lo":71.4,"hi":87.9},{"p":"SVg","s":"PRS_Local","t":600,"v":79.5,"lo":71.5,"hi":88},{"p":"SVg","s":"PRS_Local","t":700,"v":79.5,"lo":71.5,"hi":88},{"p":"SVg","s":"PRS_Local","t":780,"v":79.5,"lo":71.5,"hi":88},{"p":"SVg","s":"PRS_Local","t":800,"v":78.8,"lo":70.5,"hi":87.5},{"p":"SVg","s":"PRS_Local","t":830,"v":77.5,"lo":68.5,"hi":87},{"p":"SVg","s":"PRS_Local","t":850,"v":80.5,"lo":70,"hi":90},{"p":"SVg","s":"PRS_Local","t":870,"v":79.5,"lo":70,"hi":89},{"p":"SVg","s":"PRS_Local","t":890,"v":81.5,"lo":72,"hi":91},{"p":"SVg","s":"PRS_Local","t":910,"v":81.0,"lo":72,"hi":91},{"p":"SVg","s":"PRS_Local","t":930,"v":83.5,"lo":74,"hi":93},{"p":"SVg","s":"PRS_Local","t":950,"v":83.0,"lo":75,"hi":92},{"p":"SVg","s":"PRS_Local","t":970,"v":86.0,"lo":77,"hi":94},{"p":"SVg","s":"PRS_Local","t":990,"v":89.0,"lo":80,"hi":96},{"p":"SVg","s":"PRS_Local","t":1010,"v":85.0,"lo":78,"hi":93},{"p":"SVg","s":"PRS_Local","t":1030,"v":83.5,"lo":77,"hi":92},{"p":"SVg","s":"PRS_Local","t":1050,"v":86.5,"lo":80,"hi":94},{"p":"SVg","s":"PRS_Local","t":1070,"v":90.0,"lo":82,"hi":97},{"p":"SVg","s":"PRS_Local","t":1090,"v":87.5,"lo":81,"hi":95},{"p":"SVg","s":"PRS_Local","t":1110,"v":91.0,"lo":84,"hi":97},{"p":"SVg","s":"PRS_Local","t":1130,"v":89.0,"lo":84,"hi":96},{"p":"SVg","s":"PRS_Local","t":1150,"v":94.0,"lo":88,"hi":99},{"p":"SVg","s":"PRS_Local","t":1170,"v":92.0,"lo":87,"hi":98},{"p":"SVg","s":"PRS_Local","t":1190,"v":97.0,"lo":92,"hi":100},{"p":"SVg","s":"PRS_Local","t":1210,"v":98.0,"lo":94,"hi":100},{"p":"SVg","s":"PRS_Local","t":1230,"v":96.5,"lo":93,"hi":100},{"p":"SVg","s":"PRS_Local","t":1250,"v":99.0,"lo":97,"hi":100},{"p":"SVg","s":"PRS_Local","t":1300,"v":99.5,"lo":98.8,"hi":100},{"p":"SVg","s":"PRS_Local","t":1400,"v":99.6,"lo":99,"hi":100},{"p":"SVg","s":"PRS_Local","t":1500,"v":99.6,"lo":99,"hi":100},
{"p":"SVg","s":"RCompliant","v":39.2}
]},
"config":{
 "font":"DejaVu Sans",
 "view":{"stroke":"black","strokeWidth":1},
 "axis":{"grid":false,"domainColor":"black","domainWidth":1,"tickColor":"black","tickSize":5,"labelColor":"black","titleColor":"black","labelFontSize":14,"titleFontSize":18,"titleFontWeight":"normal","labelPadding":3,"labelFlush":false,"labelOverlap":false,"labelBound":false,"labelFont":"DejaVu Sans","titleFont":"DejaVu Sans"},
 "title":{"fontSize":17,"fontWeight":"normal","font":"DejaVu Sans","color":"black","anchor":"middle"},
 "legend":{"symbolType":"M-1,-0.3H3","symbolSize":729,"symbolStrokeWidth":2,"labelFontSize":25.5,"labelFont":"DejaVu Sans","labelColor":"black","labelOffset":44,"columnPadding":46,"symbolOpacity":1}
},
"resolve":{"scale":{"color":"shared","strokeDash":"shared","fill":"shared"},"legend":{"color":"shared","strokeDash":"shared"}},
"bounds":"flush",
"columns":3,
"spacing":{"row":28,"column":56},
"concat":[
 {"title":{"text":"Lane Merger","offset":-5},"width":282,"height":145,"transform":[{"filter":"datum.p=='LMc'"}],"layer":[
  {"transform":[{"filter":"datum.s!='RCompliant'"}],"mark":{"type":"area","opacity":0.3,"clip":true},"encoding":{
   "x":{"field":"t","type":"quantitative","title":null,"scale":{"domain":[0,1500],"nice":false},"axis":{"values":[0,250,500,750,1000,1250,1500],"format":"d","labelOverlap":false}},
   "y":{"field":"lo","type":"quantitative","title":"Expected Cost","scale":{"domain":[0,30],"nice":false,"zero":false},"axis":{"values":[0,10,20,30],"titleX":-41,"titleY":72.5,"labelOverlap":false}},
   "y2":{"field":"hi"},
   "fill":{"field":"s","type":"nominal","scale":{"domain":["PRS_Epsilon","PRS_Bolt","PRS_Local"],"range":["#1f77b4","#ff7f0e","#2ca02c"]},"legend":null}}},
  {"transform":[{"filter":"datum.s!='RCompliant'"}],"mark":{"type":"line","strokeWidth":2,"clip":true},"encoding":{
   "x":{"field":"t","type":"quantitative","title":null,"scale":{"domain":[0,1500],"nice":false},"axis":{"values":[0,250,500,750,1000,1250,1500],"format":"d","labelOverlap":false}},
   "y":{"field":"v","type":"quantitative","title":"Expected Cost","scale":{"domain":[0,30],"nice":false,"zero":false},"axis":{"values":[0,10,20,30],"titleX":-41,"titleY":72.5,"labelOverlap":false}},
   "color":{"field":"s","type":"nominal","title":null,"scale":{"domain":["PRS_Epsilon","PRS_Bolt","PRS_Local","RCompliant"],"range":["#1f77b4","#ff7f0e","#2ca02c","#000000"]},"legend":{"orient":"none","legendX":-30,"legendY":-62,"direction":"horizontal"}},
   "strokeDash":{"field":"s","type":"nominal","title":null,"scale":{"domain":["PRS_Epsilon","PRS_Bolt","PRS_Local","RCompliant"],"range":[[1,0],[1,0],[1,0],[10,4.5]]},"legend":{"orient":"none","legendX":-30,"legendY":-62,"direction":"horizontal"}}}},
  {"transform":[{"filter":"datum.s=='RCompliant'"}],"mark":{"type":"rule","strokeWidth":2},"encoding":{
   "y":{"field":"v","type":"quantitative","title":"Expected Cost","scale":{"domain":[0,30],"nice":false,"zero":false},"axis":{"values":[0,10,20,30],"titleX":-41,"titleY":72.5,"labelOverlap":false}},
   "color":{"field":"s","type":"nominal","title":null,"legend":{"orient":"none","legendX":-30,"legendY":-62,"direction":"horizontal"}},
   "strokeDash":{"field":"s","type":"nominal","title":null,"legend":{"orient":"none","legendX":-30,"legendY":-62,"direction":"horizontal"}}}}
 ]},
 {"title":{"text":"Spaceship Repair","offset":-5},"width":282,"height":145,"transform":[{"filter":"datum.p=='SRc'"}],"layer":[
  {"transform":[{"filter":"datum.s!='RCompliant'"}],"mark":{"type":"area","opacity":0.3,"clip":true},"encoding":{
   "x":{"field":"t","type":"quantitative","title":null,"scale":{"domain":[0,1500],"nice":false},"axis":{"values":[0,250,500,750,1000,1250,1500],"format":"d","labelOverlap":false}},
   "y":{"field":"lo","type":"quantitative","title":null,"scale":{"domain":[30,50],"nice":false,"zero":false},"axis":{"values":[30,35,40,45,50],"labelOverlap":false}},
   "y2":{"field":"hi"},
   "fill":{"field":"s","type":"nominal","legend":null}}},
  {"transform":[{"filter":"datum.s!='RCompliant'"}],"mark":{"type":"line","strokeWidth":2,"clip":true},"encoding":{
   "x":{"field":"t","type":"quantitative","title":null,"scale":{"domain":[0,1500],"nice":false},"axis":{"values":[0,250,500,750,1000,1250,1500],"format":"d","labelOverlap":false}},
   "y":{"field":"v","type":"quantitative","title":null,"scale":{"domain":[30,50],"nice":false,"zero":false},"axis":{"values":[30,35,40,45,50],"labelOverlap":false}},
   "color":{"field":"s","type":"nominal","title":null,"legend":{"orient":"none","legendX":-30,"legendY":-62,"direction":"horizontal"}},
   "strokeDash":{"field":"s","type":"nominal","title":null,"legend":{"orient":"none","legendX":-30,"legendY":-62,"direction":"horizontal"}}}},
  {"transform":[{"filter":"datum.s=='RCompliant'"}],"mark":{"type":"rule","strokeWidth":2},"encoding":{
   "y":{"field":"v","type":"quantitative","title":null,"scale":{"domain":[30,50],"nice":false,"zero":false},"axis":{"values":[30,35,40,45,50],"labelOverlap":false}},
   "color":{"field":"s","type":"nominal","title":null,"legend":{"orient":"none","legendX":-30,"legendY":-62,"direction":"horizontal"}},
   "strokeDash":{"field":"s","type":"nominal","title":null,"legend":{"orient":"none","legendX":-30,"legendY":-62,"direction":"horizontal"}}}}
 ]},
 {"title":{"text":"Store Visit","offset":0},"width":282,"height":145,"transform":[{"filter":"datum.p=='SVc'"}],"layer":[
  {"transform":[{"filter":"datum.s!='RCompliant'"}],"mark":{"type":"area","opacity":0.3,"clip":true},"encoding":{
   "x":{"field":"t","type":"quantitative","title":null,"scale":{"domain":[0,1500],"nice":false},"axis":{"values":[0,250,500,750,1000,1250,1500],"format":"d","labelOverlap":false}},
   "y":{"field":"lo","type":"quantitative","title":null,"scale":{"domain":[0,70],"nice":false,"zero":false},"axis":{"values":[0,20,40,60],"labelOverlap":false}},
   "y2":{"field":"hi"},
   "fill":{"field":"s","type":"nominal","legend":null}}},
  {"transform":[{"filter":"datum.s!='RCompliant'"}],"mark":{"type":"line","strokeWidth":2,"clip":true},"encoding":{
   "x":{"field":"t","type":"quantitative","title":null,"scale":{"domain":[0,1500],"nice":false},"axis":{"values":[0,250,500,750,1000,1250,1500],"format":"d","labelOverlap":false}},
   "y":{"field":"v","type":"quantitative","title":null,"scale":{"domain":[0,70],"nice":false,"zero":false},"axis":{"values":[0,20,40,60],"labelOverlap":false}},
   "color":{"field":"s","type":"nominal","title":null,"legend":{"orient":"none","legendX":-30,"legendY":-62,"direction":"horizontal"}},
   "strokeDash":{"field":"s","type":"nominal","title":null,"legend":{"orient":"none","legendX":-30,"legendY":-62,"direction":"horizontal"}}}},
  {"transform":[{"filter":"datum.s=='RCompliant'"}],"mark":{"type":"rule","strokeWidth":2},"encoding":{
   "y":{"field":"v","type":"quantitative","title":null,"scale":{"domain":[0,70],"nice":false,"zero":false},"axis":{"values":[0,20,40,60],"labelOverlap":false}},
   "color":{"field":"s","type":"nominal","title":null,"legend":{"orient":"none","legendX":-30,"legendY":-62,"direction":"horizontal"}},
   "strokeDash":{"field":"s","type":"nominal","title":null,"legend":{"orient":"none","legendX":-30,"legendY":-62,"direction":"horizontal"}}}}
 ]},
 {"width":282,"height":145,"transform":[{"filter":"datum.p=='LMg'"}],"layer":[
  {"transform":[{"filter":"datum.s!='RCompliant'"}],"mark":{"type":"area","opacity":0.3,"clip":true},"encoding":{
   "x":{"field":"t","type":"quantitative","title":"Time (Seconds)","scale":{"domain":[0,1500],"nice":false},"axis":{"values":[0,250,500,750,1000,1250,1500],"format":"d","labelOverlap":false}},
   "y":{"field":"lo","type":"quantitative","title":"% Goal Achievement","scale":{"domain":[80,100],"nice":false,"zero":false},"axis":{"values":[80,85,90,95,100],"titleX":-41,"titleY":98,"labelOverlap":false}},
   "y2":{"field":"hi"},
   "fill":{"field":"s","type":"nominal","legend":null}}},
  {"transform":[{"filter":"datum.s!='RCompliant'"}],"mark":{"type":"line","strokeWidth":2,"clip":true},"encoding":{
   "x":{"field":"t","type":"quantitative","title":"Time (Seconds)","scale":{"domain":[0,1500],"nice":false},"axis":{"values":[0,250,500,750,1000,1250,1500],"format":"d","labelOverlap":false}},
   "y":{"field":"v","type":"quantitative","title":"% Goal Achievement","scale":{"domain":[80,100],"nice":false,"zero":false},"axis":{"values":[80,85,90,95,100],"titleX":-41,"titleY":98,"labelOverlap":false}},
   "color":{"field":"s","type":"nominal","title":null,"legend":{"orient":"none","legendX":-30,"legendY":-62,"direction":"horizontal"}},
   "strokeDash":{"field":"s","type":"nominal","title":null,"legend":{"orient":"none","legendX":-30,"legendY":-62,"direction":"horizontal"}}}},
  {"transform":[{"filter":"datum.s=='RCompliant'"}],"mark":{"type":"rule","strokeWidth":2},"encoding":{
   "y":{"field":"v","type":"quantitative","title":"% Goal Achievement","scale":{"domain":[80,100],"nice":false,"zero":false},"axis":{"values":[80,85,90,95,100],"titleX":-41,"titleY":98,"labelOverlap":false}},
   "color":{"field":"s","type":"nominal","title":null,"legend":{"orient":"none","legendX":-30,"legendY":-62,"direction":"horizontal"}},
   "strokeDash":{"field":"s","type":"nominal","title":null,"legend":{"orient":"none","legendX":-30,"legendY":-62,"direction":"horizontal"}}}}
 ]},
 {"width":282,"height":145,"transform":[{"filter":"datum.p=='SRg'"}],"layer":[
  {"transform":[{"filter":"datum.s!='RCompliant'"}],"mark":{"type":"area","opacity":0.3,"clip":true},"encoding":{
   "x":{"field":"t","type":"quantitative","title":"Time (Seconds)","scale":{"domain":[0,1500],"nice":false},"axis":{"values":[0,250,500,750,1000,1250,1500],"format":"d","labelOverlap":false}},
   "y":{"field":"lo","type":"quantitative","title":null,"scale":{"domain":[60,80],"nice":false,"zero":false},"axis":{"values":[60,65,70,75,80],"labelOverlap":false}},
   "y2":{"field":"hi"},
   "fill":{"field":"s","type":"nominal","legend":null}}},
  {"transform":[{"filter":"datum.s!='RCompliant'"}],"mark":{"type":"line","strokeWidth":2,"clip":true},"encoding":{
   "x":{"field":"t","type":"quantitative","title":"Time (Seconds)","scale":{"domain":[0,1500],"nice":false},"axis":{"values":[0,250,500,750,1000,1250,1500],"format":"d","labelOverlap":false}},
   "y":{"field":"v","type":"quantitative","title":null,"scale":{"domain":[60,80],"nice":false,"zero":false},"axis":{"values":[60,65,70,75,80],"labelOverlap":false}},
   "color":{"field":"s","type":"nominal","title":null,"legend":{"orient":"none","legendX":-30,"legendY":-62,"direction":"horizontal"}},
   "strokeDash":{"field":"s","type":"nominal","title":null,"legend":{"orient":"none","legendX":-30,"legendY":-62,"direction":"horizontal"}}}},
  {"transform":[{"filter":"datum.s=='RCompliant'"}],"mark":{"type":"rule","strokeWidth":2},"encoding":{
   "y":{"field":"v","type":"quantitative","title":null,"scale":{"domain":[60,80],"nice":false,"zero":false},"axis":{"values":[60,65,70,75,80],"labelOverlap":false}},
   "color":{"field":"s","type":"nominal","title":null,"legend":{"orient":"none","legendX":-30,"legendY":-62,"direction":"horizontal"}},
   "strokeDash":{"field":"s","type":"nominal","title":null,"legend":{"orient":"none","legendX":-30,"legendY":-62,"direction":"horizontal"}}}}
 ]},
 {"width":282,"height":145,"transform":[{"filter":"datum.p=='SVg'"}],"layer":[
  {"transform":[{"filter":"datum.s!='RCompliant'"}],"mark":{"type":"area","opacity":0.3,"clip":true},"encoding":{
   "x":{"field":"t","type":"quantitative","title":"Time (Seconds)","scale":{"domain":[0,1500],"nice":false},"axis":{"values":[0,250,500,750,1000,1250,1500],"format":"d","labelOverlap":false}},
   "y":{"field":"lo","type":"quantitative","title":null,"scale":{"domain":[0,100],"nice":false,"zero":false},"axis":{"values":[0,20,40,60,80,100],"labelOverlap":false}},
   "y2":{"field":"hi"},
   "fill":{"field":"s","type":"nominal","legend":null}}},
  {"transform":[{"filter":"datum.s!='RCompliant'"}],"mark":{"type":"line","strokeWidth":2,"clip":true},"encoding":{
   "x":{"field":"t","type":"quantitative","title":"Time (Seconds)","scale":{"domain":[0,1500],"nice":false},"axis":{"values":[0,250,500,750,1000,1250,1500],"format":"d","labelOverlap":false}},
   "y":{"field":"v","type":"quantitative","title":null,"scale":{"domain":[0,100],"nice":false,"zero":false},"axis":{"values":[0,20,40,60,80,100],"labelOverlap":false}},
   "color":{"field":"s","type":"nominal","title":null,"legend":{"orient":"none","legendX":-30,"legendY":-62,"direction":"horizontal"}},
   "strokeDash":{"field":"s","type":"nominal","title":null,"legend":{"orient":"none","legendX":-30,"legendY":-62,"direction":"horizontal"}}}},
  {"transform":[{"filter":"datum.s=='RCompliant'"}],"mark":{"type":"rule","strokeWidth":2},"encoding":{
   "y":{"field":"v","type":"quantitative","title":null,"scale":{"domain":[0,100],"nice":false,"zero":false},"axis":{"values":[0,20,40,60,80,100],"labelOverlap":false}},
   "color":{"field":"s","type":"nominal","title":null,"legend":{"orient":"none","legendX":-30,"legendY":-62,"direction":"horizontal"}},
   "strokeDash":{"field":"s","type":"nominal","title":null,"legend":{"orient":"none","legendX":-30,"legendY":-62,"direction":"horizontal"}}}}
 ]}
]
}
